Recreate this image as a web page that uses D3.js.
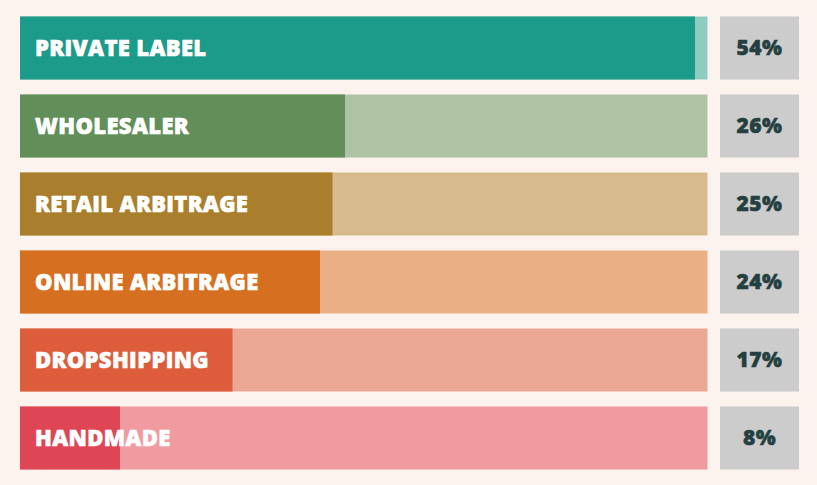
<!DOCTYPE html>
<html>
<head>
<meta charset="utf-8">
<script src="https://cdn.jsdelivr.net/npm/d3@7"></script>
<style>
  html, body { margin: 0; padding: 0; background: #fcf3ef; }
  svg { display: block; }
</style>
</head>
<body>
<div id="chart"></div>
<script>
// data
const categories = ["PRIVATE LABEL", "WHOLESALER", "RETAIL ARBITRAGE", "ONLINE ARBITRAGE", "DROPSHIPPING", "HANDMADE"];
const values = [54, 26, 25, 24, 17, 8];
const darkColors = ["#1c9a8a", "#628e5a", "#a97f2d", "#d66f1f", "#dc5c3c", "#de4656"];
const lightColors = ["#8fcbbf", "#aec2a4", "#d7bb8c", "#eab085", "#eaa793", "#ef9ba0"];

const width = 817, height = 485;

const svg = d3.select("#chart").append("svg")
  .attr("width", width)
  .attr("height", height);

svg.append("rect")
  .attr("width", width)
  .attr("height", height)
  .attr("fill", "#fcf3ef");

// bars are 12.5px per percent, full track ~55%
const x = d3.scaleLinear().domain([0, 55]).range([20, 707.5]);

const y = d3.scaleBand()
  .domain(categories)
  .range([16.5, 469.5])
  .paddingInner(15 / 78)
  .paddingOuter(0);

const rows = svg.selectAll("g.row")
  .data(categories)
  .enter()
  .append("g")
  .attr("class", "row");

// background track
rows.append("rect")
  .attr("x", x(0))
  .attr("y", d => y(d))
  .attr("width", x.range()[1] - x(0))
  .attr("height", y.bandwidth())
  .attr("fill", (d, i) => lightColors[i]);

// value bar
rows.append("rect")
  .attr("x", x(0))
  .attr("y", d => y(d))
  .attr("width", (d, i) => x(values[i]) - x(0))
  .attr("height", y.bandwidth())
  .attr("fill", (d, i) => darkColors[i]);

// category label
rows.append("text")
  .attr("x", 35)
  .attr("y", d => y(d) + y.bandwidth() / 2)
  .attr("dy", "0.35em")
  .attr("fill", "#ffffff")
  .attr("stroke", "#ffffff")
  .attr("stroke-width", 0.6)
  .attr("letter-spacing", "0.35px")
  .attr("font-family", "'Open Sans', sans-serif")
  .attr("font-weight", 800)
  .attr("font-size", "22px")
  .text(d => d);

// value box
rows.append("rect")
  .attr("x", 720)
  .attr("y", d => y(d))
  .attr("width", 79)
  .attr("height", y.bandwidth())
  .attr("fill", "#cccccc");

rows.append("text")
  .attr("x", 759.5)
  .attr("y", d => y(d) + y.bandwidth() / 2)
  .attr("dy", "0.35em")
  .attr("text-anchor", "middle")
  .attr("fill", "#243f40")
  .attr("stroke", "#243f40")
  .attr("stroke-width", 0.5)
  .attr("letter-spacing", "0.5px")
  .attr("font-family", "'Open Sans', sans-serif")
  .attr("font-weight", 800)
  .attr("font-size", "21px")
  .text((d, i) => values[i] + "%");
</script>
</body>
</html>
